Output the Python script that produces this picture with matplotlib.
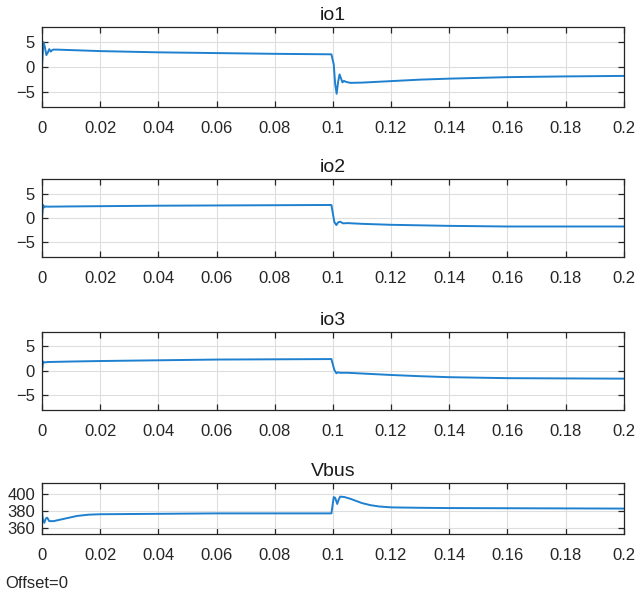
import matplotlib
matplotlib.use("Agg")
import matplotlib.pyplot as plt
from matplotlib.ticker import FuncFormatter

plt.rcParams['font.family'] = ['Liberation Sans', 'DejaVu Sans']

# waveform breakpoints
t_io1 = [0, 0.0005, 0.001, 0.0015, 0.002, 0.0025, 0.003, 0.0035, 0.004, 0.005, 0.01, 0.02,
         0.04, 0.06, 0.08, 0.0995, 0.1003, 0.1008, 0.1013, 0.1018, 0.1023, 0.1028, 0.1033,
         0.1038, 0.1045, 0.106, 0.11, 0.12, 0.13, 0.14, 0.16, 0.18, 0.2]
io1 = [0, 5.0, 4.0, 2.4, 2.9, 3.6, 3.1, 3.4, 3.5, 3.5, 3.4, 3.2,
       2.95, 2.8, 2.65, 2.55, 0.5, -3.5, -5.4, -3.0, -1.5, -2.3, -3.1,
       -2.8, -3.0, -3.2, -3.15, -2.85, -2.55, -2.35, -2.05, -1.9, -1.8]

t_io2 = [0, 0.0004, 0.0008, 0.0012, 0.002, 0.01, 0.02, 0.04, 0.06, 0.08, 0.0995,
         0.1005, 0.1012, 0.1018, 0.1025, 0.1035, 0.105, 0.11, 0.12, 0.14, 0.16, 0.18, 0.2]
io2 = [0, 2.7, 2.2, 2.4, 2.35, 2.4, 2.45, 2.55, 2.6, 2.65, 2.7,
       -0.8, -1.45, -0.9, -0.75, -1.1, -1.05, -1.2, -1.4, -1.62, -1.75, -1.75, -1.75]

t_io3 = [0, 0.0004, 0.0008, 0.002, 0.01, 0.02, 0.04, 0.06, 0.08, 0.0995,
         0.1005, 0.1012, 0.1018, 0.1025, 0.105, 0.11, 0.12, 0.13, 0.14, 0.16, 0.18, 0.2]
io3 = [0, 1.9, 1.7, 1.8, 1.9, 2.0, 2.15, 2.3, 2.35, 2.4,
       0.2, -0.5, -0.3, -0.4, -0.4, -0.55, -0.85, -1.1, -1.3, -1.5, -1.55, -1.6]

t_vbus = [0, 0.0003, 0.0008, 0.0013, 0.0018, 0.0025, 0.004, 0.008, 0.012, 0.016, 0.02,
          0.04, 0.06, 0.08, 0.0995, 0.1003, 0.1008, 0.1015, 0.102, 0.1025, 0.104, 0.106,
          0.108, 0.11, 0.113, 0.116, 0.12, 0.13, 0.14, 0.16, 0.18, 0.2]
vbus = [380, 370, 366, 371, 372, 368, 368, 371, 374, 375.5, 376,
        376.5, 377, 377, 377, 396, 395, 388, 393, 396.5, 396, 394,
        391.5, 389, 386.5, 385, 384, 383.5, 383.2, 383, 382.8, 382.6]

titles = ['io1', 'io2', 'io3', 'Vbus']
x_ticks = [0, 0.02, 0.04, 0.06, 0.08, 0.1, 0.12, 0.14, 0.16, 0.18, 0.2]

fig = plt.figure(figsize=(6.4, 5.98), dpi=100)
boxes = [
    [0.0656, 0.8216, 0.909, 0.1328],
    [0.0656, 0.5707, 0.909, 0.1294],
    [0.0656, 0.3144, 0.909, 0.1310],
    [0.0656, 0.1070, 0.909, 0.0848],
]
series = [(t_io1, io1), (t_io2, io2), (t_io3, io3), (t_vbus, vbus)]
line_color = '#1f80cf'

for i, (box, (t, y)) in enumerate(zip(boxes, series)):
    ax = fig.add_axes(box)
    ax.plot(t, y, color=line_color, lw=1.4)
    ax.set_xlim(0, 0.2)
    ax.set_xticks(x_ticks)
    ax.xaxis.set_major_formatter(FuncFormatter(lambda v, p: '%g' % round(v, 3)))
    if i < 3:
        ax.set_ylim(-8, 8)
        ax.set_yticks([-5, 0, 5])
    else:
        ax.set_ylim(353, 412)
        ax.set_yticks([360, 380, 400])
    ax.grid(True, color='#dedede', lw=0.8)
    ax.set_axisbelow(True)
    ax.tick_params(direction='in', length=4, width=0.9, top=True, right=True,
                   labelsize=12, colors='#262626')
    ax.tick_params(axis='x', pad=10)
    ax.tick_params(axis='y', pad=5)
    for s in ax.spines.values():
        s.set_color('#262626')
        s.set_linewidth(0.9)
    ax.set_title(titles[i], fontsize=14, color='#1a1a1a', pad=5)

fig.text(0.008, 0.025, 'Offset=0', fontsize=12, color='#262626', va='center', ha='left')

fig.savefig('out.png', dpi=100, facecolor='white')
